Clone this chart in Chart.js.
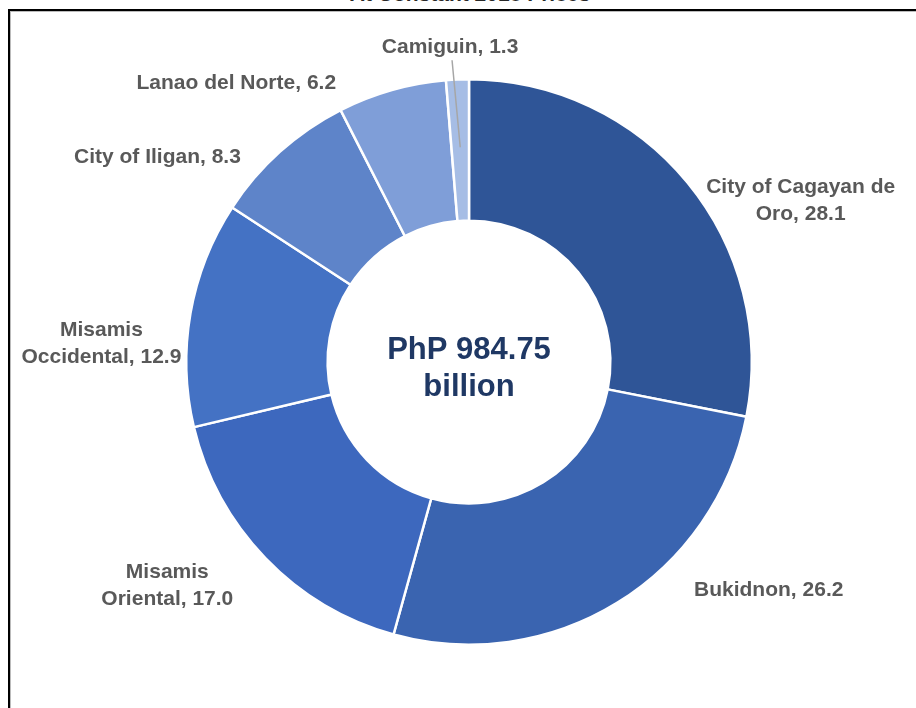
<!DOCTYPE html>
<html>
<head>
<meta charset="utf-8">
<script src="https://cdn.jsdelivr.net/npm/chart.js@4/dist/chart.umd.min.js"></script>
<style>
  body { margin: 0; background: #fff; font-family: "Liberation Sans", Arial, sans-serif; }
  #wrap { position: relative; width: 916px; height: 708px; overflow: hidden; }
  #frame { position: absolute; left: 8px; top: 9px; width: 920px; height: 720px;
           border-top: 2px solid #000; border-left: 2px solid #000;
           box-shadow: inset 1px 1px 0 #bbb; }
  #title { position: absolute; left: 0; width: 940px; top: -17px; text-align: center;
           font-size: 21px; font-weight: bold; color: #262626; line-height: 21px; }
  canvas { position: absolute; left: 0; top: 0; }
</style>
</head>
<body>
<div id="wrap">
  <div id="title">At Constant 2018 Prices</div>
  <div id="frame"></div>
  <canvas id="chart" width="916" height="708"></canvas>
</div>
<script>
// Gross regional product share by province/city (percent)
var categories = ['City of Cagayan de Oro', 'Bukidnon', 'Misamis Oriental', 'Misamis Occidental',
                  'City of Iligan', 'Lanao del Norte', 'Camiguin'];
var shares = [28.1, 26.2, 17.0, 12.9, 8.3, 6.2, 1.3];
var colors = ['#2F5597', '#3A64B0', '#3D68BE', '#4472C4', '#5E84C9', '#7F9ED8', '#A6BDE5'];
var centerLines = ['PhP 984.75', 'billion'];

// label placement, relative to the outer radius (fx, fy) plus a wrap width
var labelPlace = [
  { fx: 1.173, fy: -0.572, w: 215 },
  { fx: 1.060, fy: 0.806, w: 300 },
  { fx: -1.067, fy: 0.792, w: 150 },
  { fx: -1.300, fy: -0.064, w: 175 },
  { fx: -1.102, fy: -0.724, w: 300 },
  { fx: -0.823, fy: -0.986, w: 300 },
  { fx: -0.067, fy: -1.113, w: 300 }
];

function wrapText(ctx, text, maxW) {
  var words = text.split(' ');
  var lines = [];
  var cur = '';
  words.forEach(function(wd) {
    var test = cur ? cur + ' ' + wd : wd;
    if (ctx.measureText(test).width > maxW && cur) {
      lines.push(cur);
      cur = wd;
    } else {
      cur = test;
    }
  });
  if (cur) lines.push(cur);
  return lines;
}

var labelPlugin = {
  id: 'outerLabels',
  afterDatasetsDraw: function(chart) {
    var ctx = chart.ctx;
    var meta = chart.getDatasetMeta(0);
    var first = meta.data[0];
    var cx = first.x, cy = first.y, R = first.outerRadius;
    ctx.save();
    ctx.font = 'bold 21px "Liberation Sans", Arial, sans-serif';
    ctx.fillStyle = '#595959';
    ctx.textAlign = 'center';
    ctx.textBaseline = 'middle';
    var lh = 27;
    meta.data.forEach(function(arc, i) {
      var p = labelPlace[i];
      var lx = cx + p.fx * R, ly = cy + p.fy * R;
      var txt = categories[i] + ', ' + shares[i].toFixed(1);
      var lines = wrapText(ctx, txt, p.w);
      var y0 = ly - (lines.length - 1) * lh / 2;
      lines.forEach(function(l, k) { ctx.fillText(l, lx, y0 + k * lh); });
      // leader line for the thin slice
      if (shares[i] < 2) {
        var mid = (arc.startAngle + arc.endAngle) / 2;
        var r = R * 0.76;
        ctx.strokeStyle = '#A6A6A6';
        ctx.lineWidth = 1.5;
        ctx.beginPath();
        ctx.moveTo(lx + 2, ly + 13);
        ctx.lineTo(cx + r * Math.cos(mid), cy + r * Math.sin(mid));
        ctx.stroke();
      }
    });
    // text in the hole
    ctx.font = 'bold 31px "Liberation Sans", Arial, sans-serif';
    ctx.fillStyle = '#1F3864';
    ctx.fillText(centerLines[0], cx, cy - 12);
    ctx.fillText(centerLines[1], cx, cy + 25);
    ctx.restore();
  }
};

new Chart(document.getElementById('chart').getContext('2d'), {
  type: 'doughnut',
  data: {
    labels: categories,
    datasets: [{
      data: shares,
      backgroundColor: colors,
      borderColor: '#ffffff',
      borderWidth: 2.5
    }]
  },
  options: {
    responsive: false,
    animation: false,
    cutout: '50%',
    layout: { padding: { left: 185, right: 163, top: 78, bottom: 62 } },
    plugins: {
      legend: { display: false },
      tooltip: { enabled: false }
    }
  },
  plugins: [labelPlugin]
});
</script>
</body>
</html>
